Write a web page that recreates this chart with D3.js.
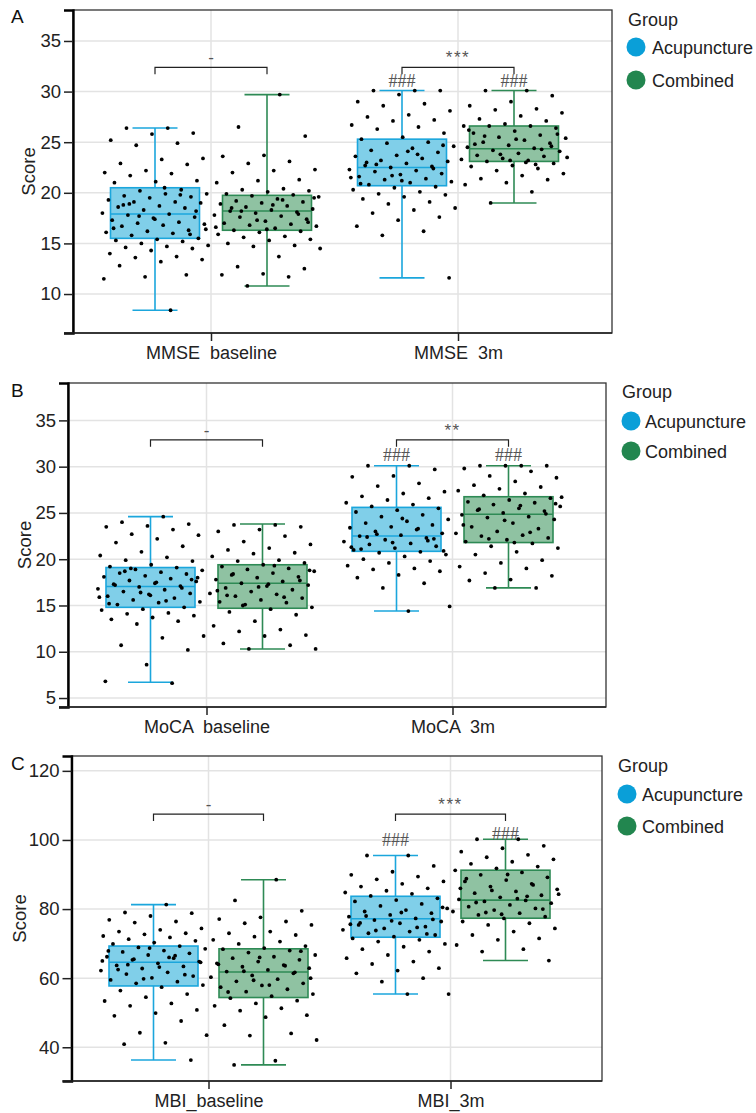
<!DOCTYPE html>
<html>
<head>
<meta charset="utf-8">
<script src="https://cdn.jsdelivr.net/npm/d3@7"></script>
<style>
  body { margin: 0; background: #fff; }
  svg { display: block; font-family: "Liberation Sans", Arial, sans-serif; }
</style>
</head>
<body>
<svg id="chart" width="756" height="1113"></svg>
<script>
// groups and categories
const groups = ["Acupuncture", "Combined"];
const mmseCats = ["MMSE  baseline", "MMSE  3m"];
const mocaCats = ["MoCA  baseline", "MoCA  3m"];
const mbiCats = ["MBI_baseline", "MBI_3m"];

const mmseTicks = [10, 15, 20, 25, 30, 35];
const mocaTicks = [5, 10, 15, 20, 25, 30, 35];
const mbiTicks = [40, 60, 80, 100, 120];

// box stats per box: [low whisker, q1, median, q3, high whisker]
// order: baseline-Acupuncture, baseline-Combined, 3m-Acupuncture, 3m-Combined
const mmseBoxes = [[8.4, 15.5, 17.9, 20.5, 26.4], [10.8, 16.3, 18.2, 19.75, 29.7],
                   [11.6, 20.7, 22.5, 25.3, 30.1], [19.0, 23.1, 24.35, 26.6, 30.1]];
const mocaBoxes = [[6.7, 14.8, 17.05, 19.1, 24.6], [10.3, 14.7, 17.4, 19.4, 23.8],
                   [14.4, 20.85, 22.5, 25.6, 30.1], [16.9, 21.8, 24.85, 26.75, 30.1]];
const mbiBoxes = [[36.3, 57.75, 64.6, 69.3, 81.3], [34.9, 54.4, 61.8, 68.5, 88.5],
                  [55.4, 71.85, 77.2, 83.7, 95.5], [65.1, 77.35, 82.6, 91.25, 100.2]];

// significance marks between groups (baseline, 3m), and "###" vs baseline
const mmseSig = ["-", "***"];
const mocaSig = ["-", "**"];
const mbiSig = ["-", "***"];
const mmseBracket = [32.4, 32.4];
const mocaBracket = [32.9, 32.9];
const mbiBracket = [107.5, 107.5];
const mmseHashY = [31.05, 31.05];
const mocaHashY = [31.3, 31.3];
const mbiHashY = [100.0, 101.8];

// individual scores
const mmseBaseAcu = [26.4, 26.4, 25.9, 25.8, 25.2, 24.9, 24.7, 23.4, 23.3, 22.9, 22.8, 22.2, 22.0, 21.9, 21.7, 21.2, 21.1, 21.0, 20.3, 20.2, 19.9, 19.9, 19.7, 19.6, 19.5, 19.3, 19.1, 19.1, 19.0, 18.7, 18.6, 18.5, 18.3, 18.0, 17.9, 17.8, 17.6, 17.5, 17.3, 17.1, 17.0, 16.9, 16.8, 16.7, 16.3, 16.2, 16.1, 16.0, 15.8, 15.5, 15.4, 15.3, 15.2, 15.0, 14.8, 14.7, 14.6, 14.5, 14.3, 14.0, 13.7, 13.6, 13.4, 13.2, 12.8, 11.9, 11.7, 11.5, 8.4, 18.9, 18.2, 17.4, 16.5, 19.8, 17.7, 16.4, 20.5, 18.8, 15.9];
const mmseBaseCom = [29.7, 26.5, 25.6, 23.7, 23.6, 23.1, 22.9, 22.3, 22.2, 22.0, 21.3, 21.2, 21.0, 20.4, 20.3, 20.2, 20.1, 19.9, 19.8, 19.7, 19.6, 19.4, 19.2, 19.1, 19.0, 18.9, 18.7, 18.6, 18.4, 18.3, 18.2, 18.1, 18.0, 17.8, 17.7, 17.6, 17.4, 17.2, 17.0, 16.9, 16.8, 16.7, 16.5, 16.3, 16.2, 16.1, 15.9, 15.7, 15.6, 15.4, 15.3, 15.0, 14.8, 14.7, 14.5, 13.7, 12.7, 12.5, 12.0, 11.9, 11.7, 10.8, 19.5, 18.8, 18.5, 17.9, 17.3, 16.6, 19.3, 18.2, 17.1, 16.4];
const mmse3mAcu = [30.1, 30.1, 30.1, 29.7, 29.0, 28.8, 28.6, 28.1, 27.7, 27.5, 27.2, 27.1, 26.7, 26.5, 26.3, 25.9, 25.5, 25.3, 25.0, 24.9, 24.6, 24.4, 24.2, 24.0, 23.7, 23.6, 23.4, 23.2, 23.1, 22.9, 22.7, 22.6, 22.5, 22.3, 22.2, 22.1, 21.9, 21.8, 21.6, 21.4, 21.3, 21.1, 21.0, 20.8, 20.6, 20.5, 20.3, 20.1, 19.9, 19.8, 19.6, 19.4, 19.1, 18.9, 18.5, 18.3, 18.0, 17.6, 17.3, 16.7, 16.2, 15.8, 11.6, 24.1, 23.0, 22.4, 21.7, 21.5, 23.8, 22.8, 24.7, 21.2, 20.9];
const mmse3mCom = [30.1, 30.1, 29.6, 29.0, 28.6, 28.3, 28.2, 27.9, 27.6, 27.3, 27.1, 26.8, 26.6, 26.6, 26.6, 26.4, 26.1, 25.9, 25.7, 25.5, 25.4, 25.2, 25.0, 24.9, 24.7, 24.5, 24.4, 24.2, 24.1, 23.9, 23.7, 23.6, 23.4, 23.3, 23.2, 23.1, 22.9, 22.7, 22.6, 22.4, 22.2, 21.9, 21.7, 21.4, 21.3, 21.0, 20.8, 20.1, 19.0, 25.8, 25.3, 24.8, 24.3, 23.8, 23.5, 23.0, 25.6, 24.6, 23.2, 26.2, 22.8];

const mocaBaseAcu = [24.6, 24.0, 23.8, 23.6, 23.5, 23.2, 22.7, 22.6, 22.2, 21.8, 21.4, 20.8, 20.4, 20.2, 19.9, 19.8, 19.4, 19.2, 19.1, 18.9, 18.8, 18.6, 18.5, 18.4, 18.2, 18.1, 17.9, 17.7, 17.6, 17.4, 17.3, 17.1, 17.0, 16.8, 16.7, 16.5, 16.3, 16.2, 16.0, 15.8, 15.6, 15.4, 15.3, 15.1, 14.8, 14.6, 14.5, 14.2, 14.1, 13.9, 13.7, 13.5, 13.3, 13.0, 11.7, 11.5, 10.7, 10.2, 8.6, 6.8, 6.6, 19.0, 18.0, 17.5, 17.2, 16.9, 16.4, 15.9, 15.5, 18.7, 17.8, 16.1, 15.2];
const mocaBaseCom = [23.7, 23.7, 23.5, 23.2, 23.0, 22.5, 21.9, 21.6, 21.2, 21.0, 20.7, 20.6, 20.3, 19.9, 19.8, 19.6, 19.4, 19.2, 19.0, 18.9, 18.7, 18.5, 18.3, 18.1, 18.0, 17.8, 17.6, 17.4, 17.2, 17.1, 16.9, 16.7, 16.5, 16.3, 16.2, 16.0, 15.8, 15.6, 15.4, 15.3, 15.1, 14.8, 14.6, 14.3, 14.0, 13.3, 12.8, 12.4, 12.2, 11.8, 11.7, 10.9, 10.7, 10.3, 10.3, 19.3, 18.4, 17.7, 17.0, 16.6, 15.9, 15.0, 18.8, 17.3, 16.1];
const moca3mAcu = [30.1, 30.1, 29.7, 29.0, 28.9, 28.2, 27.9, 27.3, 27.1, 26.8, 26.6, 26.4, 26.1, 25.9, 25.7, 25.5, 25.3, 25.1, 24.8, 24.6, 24.3, 24.1, 23.9, 23.7, 23.5, 23.4, 23.2, 23.0, 22.8, 22.6, 22.5, 22.3, 22.1, 21.9, 21.7, 21.6, 21.4, 21.2, 21.0, 20.8, 20.7, 20.5, 20.3, 20.0, 19.8, 19.6, 19.3, 19.0, 18.9, 18.7, 18.3, 18.0, 17.4, 16.9, 14.9, 14.4, 22.4, 22.2, 21.8, 21.3, 23.3, 22.7, 20.9, 24.4, 21.1, 22.0];
const moca3mCom = [30.1, 30.1, 30.1, 30.1, 29.8, 29.5, 29.0, 28.8, 28.4, 28.0, 27.8, 27.6, 27.4, 27.1, 26.9, 26.6, 26.4, 26.2, 26.1, 25.9, 25.7, 25.5, 25.3, 25.2, 25.0, 24.8, 24.6, 24.5, 24.3, 23.9, 23.5, 23.3, 23.0, 22.8, 22.6, 22.5, 22.3, 22.1, 21.9, 21.7, 21.4, 21.2, 20.8, 20.5, 19.9, 19.6, 19.2, 19.0, 18.5, 18.2, 17.8, 17.7, 16.9, 16.9, 26.7, 25.8, 25.4, 24.9, 24.2, 23.7, 22.9, 22.2, 26.0, 21.8];

const mbiBaseAcu = [81.3, 79.0, 78.8, 78.0, 76.9, 76.4, 76.1, 74.4, 74.0, 73.5, 73.0, 72.7, 72.2, 71.8, 71.3, 70.8, 70.3, 69.9, 69.3, 68.9, 68.5, 68.0, 67.6, 67.2, 66.7, 66.2, 65.8, 65.3, 64.8, 64.3, 63.7, 63.4, 62.8, 62.2, 61.7, 61.2, 60.6, 60.1, 59.5, 59.0, 58.5, 58.0, 57.4, 56.4, 55.4, 54.5, 53.4, 52.7, 52.0, 50.8, 49.9, 49.1, 47.6, 44.2, 43.5, 41.3, 40.9, 36.3, 68.7, 67.9, 66.5, 65.5, 64.6, 63.2, 62.5, 61.0, 59.8, 65.0, 66.0, 63.9];
const mbiBaseCom = [88.5, 82.5, 79.5, 77.6, 77.1, 76.4, 75.9, 75.4, 73.5, 73.0, 72.5, 72.0, 71.1, 70.6, 69.9, 69.3, 68.7, 68.4, 68.0, 67.4, 66.7, 66.2, 65.8, 65.3, 64.8, 64.3, 63.8, 63.3, 62.9, 62.4, 61.9, 61.4, 60.8, 60.3, 59.7, 59.1, 58.5, 57.9, 57.4, 56.8, 56.1, 55.4, 54.8, 54.2, 53.5, 52.7, 52.0, 51.3, 50.6, 49.3, 48.7, 46.4, 44.0, 43.4, 42.1, 36.1, 34.9, 67.8, 66.0, 64.0, 63.6, 62.0, 60.0, 58.0, 56.0, 61.7, 59.4];
const mbi3mAcu = [95.5, 95.5, 92.5, 90.8, 89.9, 89.4, 88.6, 88.0, 87.3, 86.5, 86.0, 85.3, 84.8, 84.4, 83.8, 83.1, 82.6, 82.2, 81.5, 80.9, 80.2, 79.7, 79.3, 78.8, 78.3, 77.8, 77.3, 76.8, 76.4, 75.9, 75.4, 74.9, 74.4, 74.0, 73.5, 73.0, 72.5, 72.0, 71.5, 71.1, 70.6, 69.9, 69.1, 68.4, 67.7, 66.7, 65.8, 64.8, 64.1, 62.9, 62.2, 61.4, 60.0, 59.0, 55.4, 55.4, 78.0, 77.0, 76.6, 75.6, 74.7, 73.8, 80.5, 79.0, 76.0, 72.8];
const mbi3mCom = [100.2, 100.2, 98.3, 97.6, 96.6, 95.7, 95.0, 94.4, 93.7, 93.1, 92.3, 91.8, 91.2, 90.6, 89.9, 89.2, 88.4, 88.0, 87.3, 86.5, 85.7, 85.1, 84.6, 84.0, 83.4, 82.8, 82.5, 82.2, 81.7, 81.2, 80.7, 80.2, 79.7, 79.3, 78.8, 78.3, 77.8, 77.3, 76.4, 75.9, 75.4, 74.4, 73.5, 72.5, 71.5, 71.1, 69.6, 68.4, 67.7, 65.1, 90.0, 88.8, 87.0, 85.4, 84.3, 83.0, 81.9, 80.0, 78.5, 86.0, 83.7, 79.0];

// colours
const strokeCol = { Acupuncture: "#1ba6dc", Combined: "#2e8a55" };
const fillCol = { Acupuncture: "#80cfe9", Combined: "#8fc2a2" };
const legendCol = { Acupuncture: "#0a9fd8", Combined: "#22864f" };

// panel layouts
const panels = [
  { letter: "A", letterY: 23, cats: mmseCats, ticks: mmseTicks, boxes: mmseBoxes,
    points: [mmseBaseAcu, mmseBaseCom, mmse3mAcu, mmse3mCom],
    sig: mmseSig, bracket: mmseBracket, hashY: mmseHashY,
    domain: [6.15, 38.06], left: 73, top: 10, right: 612, bottom: 333,
    centers: [211, 458], dodge: 56, scoreX: 28.5,
    legX: 628, legY: 26, dotX: 636, dotY: [47, 80], legTextX: 652 },
  { letter: "B", letterY: 397, cats: mocaCats, ticks: mocaTicks, boxes: mocaBoxes,
    points: [mocaBaseAcu, mocaBaseCom, moca3mAcu, moca3mCom],
    sig: mocaSig, bracket: mocaBracket, hashY: mocaHashY,
    domain: [4.03, 39.04], left: 68, top: 383, right: 606, bottom: 707,
    centers: [206.5, 452.5], dodge: 56, scoreX: 24.5,
    legX: 622, legY: 398, dotX: 631, dotY: [421, 451], legTextX: 645 },
  { letter: "C", letterY: 770, cats: mbiCats, ticks: mbiTicks, boxes: mbiBoxes,
    points: [mbiBaseAcu, mbiBaseCom, mbi3mAcu, mbi3mCom],
    sig: mbiSig, bracket: mbiBracket, hashY: mbiHashY,
    domain: [30.24, 124.3], left: 71.5, top: 756, right: 602, bottom: 1081,
    centers: [208.5, 450.5], dodge: 55, scoreX: 20,
    legX: 618, legY: 772, dotX: 627, dotY: [794, 826], legTextX: 642 }
];

const svg = d3.select("#chart");
const boxW = 89, capW = 45, jitterW = 54;

panels.forEach(p => {
  const y = d3.scaleLinear().domain(p.domain).range([p.bottom, p.top]);
  const x = d3.scalePoint().domain(p.cats).range(p.centers);
  const dodge = d3.scalePoint().domain(groups).range([-p.dodge, p.dodge]);
  const g = svg.append("g");

  // grid
  g.selectAll(".hgrid").data(p.ticks).join("line")
    .attr("x1", p.left).attr("x2", p.right)
    .attr("y1", d => y(d)).attr("y2", d => y(d))
    .attr("stroke", "#e3e3e3").attr("stroke-width", 1.5);
  g.selectAll(".vgrid").data(p.cats).join("line")
    .attr("x1", d => x(d)).attr("x2", d => x(d))
    .attr("y1", p.top).attr("y2", p.bottom)
    .attr("stroke", "#e3e3e3").attr("stroke-width", 1.5);

  // frame
  g.append("rect")
    .attr("x", p.left).attr("y", p.top)
    .attr("width", p.right - p.left).attr("height", p.bottom - p.top)
    .attr("fill", "none").attr("stroke", "#333").attr("stroke-width", 1.3);

  // boxes
  const boxData = [];
  p.cats.forEach((c, ci) => groups.forEach((grp, gi) => {
    const s = p.boxes[ci * 2 + gi];
    boxData.push({ cx: x(c) + dodge(grp), grp, lo: s[0], q1: s[1], med: s[2], q3: s[3], hi: s[4],
                   pts: p.points[ci * 2 + gi] });
  }));

  const bx = g.selectAll(".box").data(boxData).join("g");
  bx.append("line")
    .attr("x1", d => d.cx).attr("x2", d => d.cx)
    .attr("y1", d => y(d.lo)).attr("y2", d => y(d.hi))
    .attr("stroke", d => strokeCol[d.grp]).attr("stroke-width", 1.6);
  bx.selectAll(".cap").data(d => [[d, d.lo], [d, d.hi]]).join("line")
    .attr("x1", d => d[0].cx - capW / 2).attr("x2", d => d[0].cx + capW / 2)
    .attr("y1", d => y(d[1])).attr("y2", d => y(d[1]))
    .attr("stroke", d => strokeCol[d[0].grp]).attr("stroke-width", 1.6);
  bx.append("rect")
    .attr("x", d => d.cx - boxW / 2).attr("width", boxW)
    .attr("y", d => y(d.q3)).attr("height", d => y(d.q1) - y(d.q3))
    .attr("fill", d => fillCol[d.grp]).attr("stroke", d => strokeCol[d.grp]).attr("stroke-width", 1.6);
  bx.append("line")
    .attr("x1", d => d.cx - boxW / 2).attr("x2", d => d.cx + boxW / 2)
    .attr("y1", d => y(d.med)).attr("y2", d => y(d.med))
    .attr("stroke", d => strokeCol[d.grp]).attr("stroke-width", 1.6);

  // jittered points (deterministic spread)
  bx.selectAll(".pt").data(d => d.pts.map((v, i) => ({ v, cx: d.cx, i }))).join("circle")
    .attr("cx", d => d.cx + (((d.i + 1) * 0.6180339887) % 1 - 0.5) * 2 * jitterW)
    .attr("cy", d => y(d.v))
    .attr("r", 1.9)
    .attr("fill", "#000");

  // brackets and stars
  p.cats.forEach((c, ci) => {
    const x1 = x(c) + dodge(groups[0]), x2 = x(c) + dodge(groups[1]);
    const by = y(p.bracket[ci]);
    g.append("path")
      .attr("d", `M${x1},${by + 7}V${by}H${x2}V${by + 7}`)
      .attr("fill", "none").attr("stroke", "#222").attr("stroke-width", 1.2);
    g.append("text")
      .attr("x", x(c)).attr("y", by - 4)
      .attr("text-anchor", "middle")
      .attr("font-size", 17).attr("fill", "#555")
      .attr("letter-spacing", p.sig[ci] === "-" ? 0 : 1.5)
      .text(p.sig[ci]);
  });
  groups.forEach((grp, gi) => {
    g.append("text")
      .attr("x", x(p.cats[1]) + dodge(grp)).attr("y", y(p.hashY[gi]) + 6.5)
      .attr("text-anchor", "middle")
      .attr("font-size", 18).attr("fill", "#555")
      .attr("font-family", "Liberation Serif, serif")
      .text("###");
  });

  // y axis
  const yAxis = g.append("g").attr("transform", `translate(${p.left},0)`)
    .call(d3.axisLeft(y).tickValues(p.ticks).tickSize(9).tickSizeOuter(9).tickPadding(3));
  yAxis.select(".domain").attr("stroke", "#000").attr("stroke-width", 2.4);
  yAxis.selectAll(".tick line").attr("stroke", "#222").attr("stroke-width", 1.5);
  yAxis.selectAll(".tick text").attr("font-size", 18.5).attr("fill", "#222")
    .attr("font-family", "Liberation Sans, Arial, sans-serif");

  // x axis
  const xAxis = g.append("g").attr("transform", `translate(0,${p.bottom})`)
    .call(d3.axisBottom(x).tickSize(8).tickSizeOuter(0).tickPadding(5));
  xAxis.select(".domain").attr("stroke", "#222").attr("stroke-width", 1.6)
    .attr("d", `M${p.left - 9},0H${p.right}`);
  xAxis.selectAll(".tick line").attr("stroke", "#222").attr("stroke-width", 1.5);
  xAxis.selectAll(".tick text").attr("font-size", 18).attr("fill", "#222")
    .attr("font-family", "Liberation Sans, Arial, sans-serif")
    .style("white-space", "pre");

  // y title
  g.append("text")
    .attr("transform", `translate(${p.scoreX},${(p.top + p.bottom) / 2}) rotate(-90)`)
    .attr("text-anchor", "middle").attr("dy", "0.35em")
    .attr("font-size", 18.5).attr("fill", "#222")
    .text("Score");

  // panel letter
  g.append("text")
    .attr("x", 11).attr("y", p.letterY)
    .attr("font-size", 19).attr("fill", "#111")
    .text(p.letter);

  // legend
  g.append("text")
    .attr("x", p.legX).attr("y", p.legY)
    .attr("font-size", 18).attr("fill", "#222")
    .text("Group");
  groups.forEach((grp, gi) => {
    g.append("circle")
      .attr("cx", p.dotX).attr("cy", p.dotY[gi]).attr("r", 9.5)
      .attr("fill", legendCol[grp]);
    g.append("text")
      .attr("x", p.legTextX).attr("y", p.dotY[gi] + 6.5)
      .attr("font-size", 18).attr("fill", "#222")
      .text(grp);
  });
});
</script>
</body>
</html>
